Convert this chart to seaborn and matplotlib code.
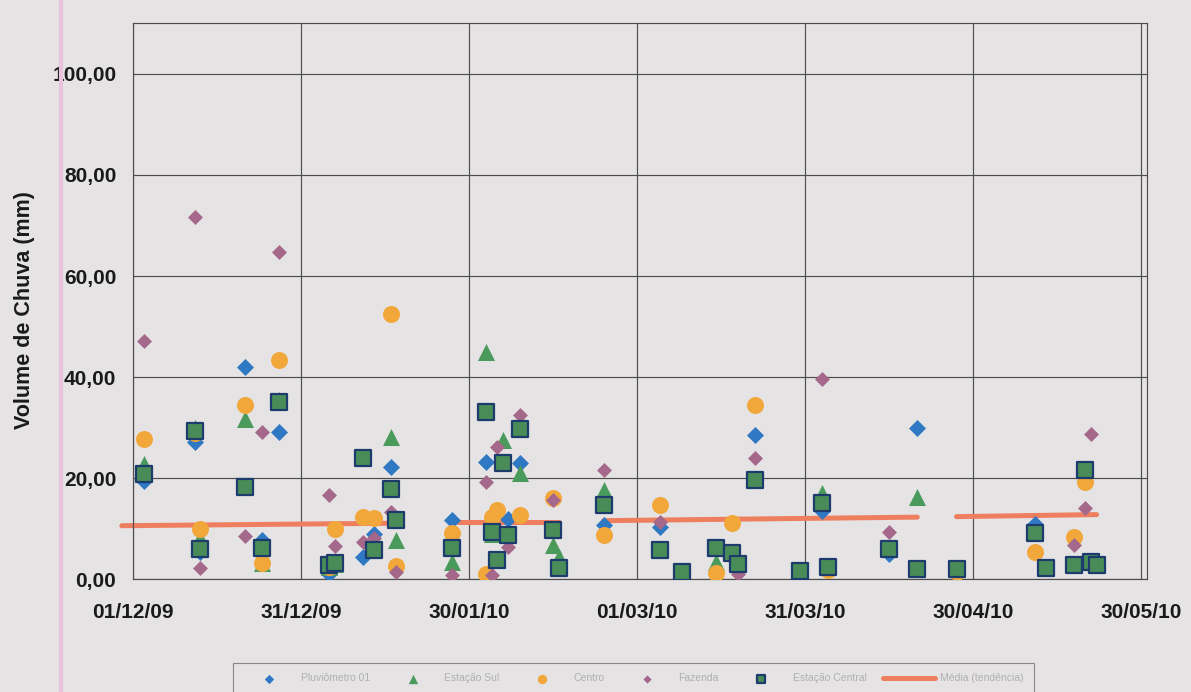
import pandas as pd
import matplotlib.pyplot as plt
import matplotlib.dates as mdates
from matplotlib.lines import Line2D
from matplotlib.ticker import FuncFormatter
import seaborn as sns

# datas das leituras (dia/mes)
datas = ["2009-12-03", "2009-12-12", "2009-12-13", "2009-12-21", "2009-12-24",
         "2009-12-27", "2010-01-05", "2010-01-06", "2010-01-11", "2010-01-13",
         "2010-01-16", "2010-01-17", "2010-01-27", "2010-02-02", "2010-02-03",
         "2010-02-04", "2010-02-05", "2010-02-06", "2010-02-08", "2010-02-14",
         "2010-02-15", "2010-02-23", "2010-03-05", "2010-03-09", "2010-03-15",
         "2010-03-18", "2010-03-19", "2010-03-22", "2010-03-30", "2010-04-03",
         "2010-04-04", "2010-04-15", "2010-04-20", "2010-04-27", "2010-05-11",
         "2010-05-13", "2010-05-18", "2010-05-20", "2010-05-21", "2010-05-22"]

# volumes (mm) por pluviometro
p1 = [19.5, 27.2, 5.5, 42.1, 7.8, 29.2, 1.0, 3.0, 4.4, 8.9,
      22.2, 11.7, 11.7, 23.2, 9.3, 3.8, 23.0, 12.0, 23.0, 9.7,
      2.2, 10.7, 10.3, 1.4, 6.2, 5.2, 3.0, 28.6, 1.6, 13.5,
      2.4, 5.0, 30.0, 2.0, 10.9, 2.2, 2.8, 21.6, 3.4, 2.8]
p2 = [22.8, 30.0, 8.1, 31.7, 3.3, 35.5, 2.5, 3.0, 24.0, 5.8,
      28.2, 7.7, 3.5, 45.0, 9.0, 3.8, 27.6, 8.7, 21.0, 6.7,
      4.4, 17.7, 5.8, 1.4, 3.4, 5.2, 3.0, 19.6, 1.6, 17.0,
      2.4, 5.9, 16.3, 2.0, 9.1, 2.2, 2.8, 21.6, 3.4, 2.8]
p3 = [27.8, 29.0, 9.9, 34.5, 3.2, 43.3, 2.5, 9.9, 12.3, 12.1,
      52.4, 2.6, 9.1, 1.0, 12.3, 13.7, 23.0, 8.7, 12.7, 16.0,
      2.2, 8.7, 14.7, 0.8, 1.2, 11.1, 3.0, 34.5, 1.6, 15.1,
      1.8, 5.9, 2.0, 1.5, 5.4, 2.2, 8.3, 19.3, 3.4, 2.8]
p4 = [47.2, 71.7, 2.2, 8.5, 29.2, 64.7, 16.7, 6.5, 7.3, 8.1,
      13.3, 1.4, 0.8, 19.3, 0.8, 26.2, 23.0, 6.3, 32.5, 15.7,
      2.0, 21.6, 11.3, 1.4, 6.2, 5.2, 1.0, 24.0, 1.6, 39.7,
      2.4, 9.3, 2.0, 2.0, 9.1, 2.2, 6.8, 14.1, 28.8, 2.8]
p5 = [20.8, 29.3, 5.9, 18.3, 6.2, 35.1, 2.8, 3.3, 24.0, 5.8,
      17.9, 11.7, 6.1, 33.0, 9.3, 3.8, 23.0, 8.7, 29.8, 9.7,
      2.2, 14.7, 5.8, 1.4, 6.2, 5.2, 3.0, 19.6, 1.6, 15.1,
      2.4, 5.9, 2.0, 2.0, 9.1, 2.2, 2.8, 21.6, 3.4, 2.8]

# linha de media (trechos)
media_datas = ["2009-11-29", "2010-01-17", "2010-01-28", "2010-02-15",
               "2010-02-23", "2010-04-20", "2010-04-27", "2010-05-22"]
media_vals = [10.6, 11.1, 11.4, 11.4, 11.6, 12.3, 12.4, 12.8]
media_trecho = [1, 1, 2, 2, 3, 3, 4, 4]

nomes = ["Pluviômetro 01", "Estação Sul", "Centro", "Fazenda",
         "Estação Central", "Média (tendência)"]
xticks = ["2009-12-01", "2009-12-31", "2010-01-30", "2010-03-01",
          "2010-03-31", "2010-04-30", "2010-05-30"]

df = pd.DataFrame({"Data": pd.to_datetime(datas), "P1": p1, "P2": p2,
                   "P3": p3, "P4": p4, "P5": p5})
media = pd.DataFrame({"Data": pd.to_datetime(media_datas), "Valor": media_vals,
                      "trecho": media_trecho})

sns.set_theme(style="white")
plt.rcParams['font.family'] = ['Liberation Sans', 'DejaVu Sans']

papel = '#E5E3E4'
laranja = "#EE7F5E"
fig = plt.figure(figsize=(11.91, 6.92), dpi=100, facecolor=papel)
ax = fig.add_axes([133/1191, 1 - 579.3/692, 1014/1191, 556/692])
ax.set_facecolor(papel)

sns.scatterplot(data=df, x="Data", y="P1", marker="D", s=75, color="#2F78C4",
                linewidth=0, label=nomes[0], ax=ax, zorder=3)
sns.scatterplot(data=df, x="Data", y="P2", marker="^", s=150, color="#4A9A5C",
                linewidth=0, label=nomes[1], ax=ax, zorder=3)
sns.scatterplot(data=df, x="Data", y="P3", marker="o", s=150, color="#F2A73B",
                linewidth=0, label=nomes[2], ax=ax, zorder=3)
sns.scatterplot(data=df, x="Data", y="P4", marker="D", s=58, color="#A5678A",
                linewidth=0, label=nomes[3], ax=ax, zorder=3)
sns.scatterplot(data=df, x="Data", y="P5", marker="s", s=120, color="#4A8C57",
                edgecolor="#1D3C6E", linewidth=1.6, label=nomes[4], ax=ax, zorder=3)
sns.lineplot(data=media, x="Data", y="Valor", units="trecho", estimator=None,
             color=laranja, linewidth=3.6, ax=ax, zorder=2, clip_on=False,
             solid_capstyle="round", legend=False)

handles, labels = ax.get_legend_handles_labels()
if ax.get_legend() is not None:
    ax.get_legend().remove()

ax.set_xlim(pd.Timestamp("2009-12-01"), pd.Timestamp("2010-05-31"))
ax.set_ylim(0, 110)
ax.set_xticks(pd.to_datetime(xticks))
ax.xaxis.set_major_formatter(mdates.DateFormatter("%d/%m/%y"))
ax.set_yticks(range(0, 101, 20))
ax.yaxis.set_major_formatter(FuncFormatter(lambda v, p: f"{v:.2f}".replace(".", ",")))

ax.grid(True, color="#4d4d4d", linewidth=0.85)
for sp in ax.spines.values():
    sp.set_color("#4d4d4d")
    sp.set_linewidth(0.85)
ax.tick_params(axis="both", direction="out", length=6, width=0.85, color="#4d4d4d",
               labelsize=15, labelcolor="#1a1a1a")
ax.tick_params(axis="x", pad=11)
ax.tick_params(axis="y", pad=6)
for t in ax.get_xticklabels() + ax.get_yticklabels():
    t.set_fontweight("bold")

ax.set_xlabel("")
ax.set_ylabel("Volume de Chuva (mm)", fontsize=15.5, fontweight="bold", color="#1a1a1a")
ax.yaxis.set_label_coords(-0.097, 0.484)

# legenda embaixo, texto bem claro como na copia
handles = handles[:5] + [Line2D([0], [0], color=laranja, linewidth=3.6, solid_capstyle="round")]
labels = labels[:5] + [nomes[5]]
leg = fig.legend(handles, labels, loc="upper left", bbox_to_anchor=(233/1191, 1 - 663/692),
                 ncol=6, frameon=True, fancybox=False, fontsize=7.5, markerscale=0.55,
                 handlelength=5.0, handletextpad=0.5, columnspacing=1.6, borderpad=1.0,
                 borderaxespad=0, facecolor=papel, edgecolor="#6f6f6f", labelcolor="#b0b0b0")
leg.get_frame().set_linewidth(0.8)

# margem rosa da folha digitalizada
fig.add_artist(Line2D([61/1191, 61/1191], [0, 1], color="#EBC3DD", linewidth=3,
                      transform=fig.transFigure))

fig.savefig("out.png", dpi=100, facecolor=papel)
